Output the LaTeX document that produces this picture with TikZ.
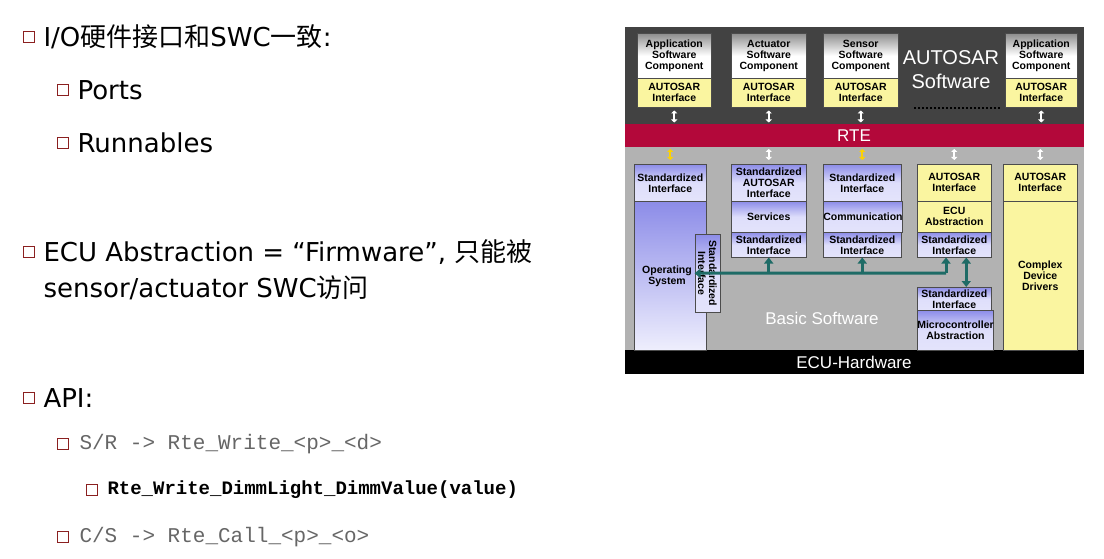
\documentclass[tikz,border=0pt]{standalone}
\usepackage{fontspec}
\setmainfont{DejaVu Sans}
\newfontfamily\cjk{Noto Sans CJK SC}
\newfontfamily\arl{Liberation Sans}
\newfontfamily\mono{Liberation Mono}
\usetikzlibrary{arrows.meta}
\definecolor{bul}{HTML}{8B2020}
\definecolor{rte}{HTML}{B3083A}
\definecolor{top}{HTML}{424242}
\definecolor{low}{HTML}{B2B2B2}
\definecolor{lav}{HTML}{C8C8F8}
\definecolor{lavd}{HTML}{8C8CE8}
\definecolor{yel}{HTML}{FAF5A0}
\definecolor{bus}{HTML}{1E6B66}
\begin{document}
\begin{tikzpicture}[x=1pt,y=-1pt,
  bullet/.style={draw=bul,line width=1.2pt,minimum size=11pt,inner sep=0,
    path picture={\draw[bul,line width=1.5pt] ([xshift=1.5pt]path picture bounding box.south west)--(path picture bounding box.south east)--([yshift=-1.5pt]path picture bounding box.north east);}},
  t1/.style={anchor=west,font=\fontsize{26}{30}\selectfont},
  t2/.style={anchor=west,font=\mono\fontsize{21}{24}\selectfont,text=black!60},
  box/.style={draw=black!70,line width=0.5pt,inner sep=0,align=center,font=\arl\bfseries\fontsize{10.5}{11}\selectfont},
  lv/.style={box,top color=lavd,bottom color=lav!50,middle color=lav!60},
  yl/.style={box,fill=yel},
  sw/.style={box,top color=black!45,bottom color=white,middle color=white},
  arr/.style={{Triangle[length=3pt,width=6pt]}-{Triangle[length=3pt,width=6pt]},line width=2.5pt,draw=#1},
  busl/.style={line width=3pt,draw=bus}
]
\useasboundingbox (0,0) rectangle (1104,559);
% left text
\node[bullet] (b1) at (29,37) {};
\node[t1] (l1) at (40,37) {I/O{\cjk 硬件接口和}SWC{\cjk 一致}:};
\node[bullet] (b2) at (63,90) {};
\node[t1] (l2) at (74,90) {Ports};
\node[bullet] (b3) at (63,143) {};
\node[t1] (l3) at (74,143) {Runnables};
\node[bullet] (b4) at (29,252) {};
\node[t1] (l4) at (40,252) {ECU Abstraction = “Firmware”, {\cjk 只能被}};
\node[t1] (l5) at (40,288) {sensor/actuator SWC{\cjk 访问}};
\node[bullet] (b5) at (29,398) {};
\node[t1] (l6) at (40,398) {API:};
\node[bullet] (b6) at (63,444) {};
\node[t2] (l7) at (76,444) {S/R -> Rte\_Write\_<p>\_<d>};
\node[bullet] (b7) at (92,490) {};
\node[t2,text=black,font=\mono\bfseries\fontsize{19}{22}\selectfont] (l8) at (104,490) {Rte\_Write\_DimmLight\_DimmValue(value)};
\node[bullet] (b8) at (63,537) {};
\node[t2] (l9) at (76,537) {C/S -> Rte\_Call\_<p>\_<o>};
% background layers
\fill[top] (625,27) rectangle (1084,124);
\fill[rte] (625,124) rectangle (1084,147);
\fill[low] (625,147) rectangle (1084,350);
\fill[black] (625,350) rectangle (1084,374);
\node[text=white,font=\arl\fontsize{17}{18}\selectfont] (rte) at (854,136) {RTE};
\node[text=white,font=\arl\fontsize{17}{18}\selectfont] (hw) at (854,362) {ECU-Hardware};
\node[text=white,font=\arl\fontsize{20}{24}\selectfont,align=center] (asw) at (951,70) {AUTOSAR\\Software};
\node[text=white,font=\arl\fontsize{17}{18}\selectfont] (bsw) at (822,318) {Basic Software};
\draw[black,line width=2.5pt,dash pattern=on 2pt off 2pt] (914,108) -- (1000,108);
% top SWCs
\foreach \n/\a/\b/\t in {s1/637/711/Application, s2/731/806/Actuator, s3/823/898/Sensor, s4/1005/1077/Application}{
  \node[sw,minimum width=\b-\a,minimum height=45,anchor=north west] (\n) at (\a,33) {\t\\Software\\Component};
  \node[yl,minimum width=\b-\a,minimum height=29,anchor=north west] (\n i) at (\a,78) {AUTOSAR\\Interface};
}
\foreach \n in {s1,s2,s3,s4}{
  \draw[arr=white,line width=2pt] ([yshift=-3pt]\n i.south) -- ++(0,12);
}
% lower boxes
\node[lv,minimum width=72,minimum height=37,anchor=north west] (osi) at (634,164) {Standardized\\Interface};
\node[box,top color=lavd,bottom color=lav!30,minimum width=72,minimum height=149,anchor=north west] (os) at (634,201) {};
\node[box,draw=none,font=\arl\bfseries\fontsize{10.5}{11}\selectfont] (ost) at (667,276) {Operating\\System};
\node[lv,minimum width=75,minimum height=37,anchor=north west] (bi) at (731,164) {Standardized\\AUTOSAR\\Interface};
\node[lv,minimum width=75,minimum height=31,anchor=north west] (srv) at (731,201) {Services};
\node[lv,minimum width=75,minimum height=25,anchor=north west] (bs) at (731,232) {Standardized\\Interface};
\node[lv,minimum width=78,minimum height=37,anchor=north west] (ci) at (823,164) {Standardized\\Interface};
\node[lv,minimum width=78,minimum height=31,anchor=north west] (com) at (823,201) {Communication};
\node[lv,minimum width=78,minimum height=25,anchor=north west] (cs) at (823,232) {Standardized\\Interface};
\node[yl,minimum width=74,minimum height=37,anchor=north west] (di) at (917,164) {AUTOSAR\\Interface};
\node[yl,minimum width=74,minimum height=31,anchor=north west] (eca) at (917,201) {ECU\\Abstraction};
\node[lv,minimum width=74,minimum height=25,anchor=north west] (ds) at (917,232) {Standardized\\Interface};
\node[yl,minimum width=74,minimum height=37,anchor=north west] (ei) at (1003,164) {AUTOSAR\\Interface};
\node[yl,minimum width=74,minimum height=149,anchor=north west] (cdd) at (1003,201) {Complex\\Device\\Drivers};
\node[lv,minimum width=74,minimum height=23,anchor=north west] (ms) at (917,287) {Standardized\\Interface};
\node[lv,minimum width=74,minimum height=40,anchor=north west] (mca) at (917,310) {Microcontroller\\Abstraction};
\node[lv,minimum width=78,minimum height=25,anchor=north west,rotate=-90] (vs) at (720,234) {Standardized\\Interface};
% RTE to BSW arrows
\draw[arr=yellow!70!orange,line width=2pt] ([yshift=4pt]osi.north) -- ++(0,-11);
\draw[arr=white,line width=2pt] ([yshift=4pt]bi.north) -- ++(0,-11);
\draw[arr=yellow!70!orange,line width=2pt] ([yshift=4pt]ci.north) -- ++(0,-11);
\draw[arr=white,line width=2pt] ([yshift=4pt]di.north) -- ++(0,-11);
\draw[arr=white,line width=2pt] ([yshift=4pt]ei.north) -- ++(0,-11);
% bus
\coordinate (bl) at (946,273);
\draw[busl,-{Triangle[length=6pt,width=9pt]}] (bl) -- (vs.south);
\draw[busl,-{Triangle[length=6pt,width=9pt]}] (bs.south |- bl) -- (bs.south);
\draw[busl,-{Triangle[length=6pt,width=9pt]}] (cs.south |- bl) -- (cs.south);
\draw[busl,-{Triangle[length=6pt,width=9pt]}] (bl) -- (ds.south -| bl);
\draw[busl,{Triangle[length=6pt,width=9pt]}-{Triangle[length=6pt,width=9pt]}] ([xshift=12pt]ds.south) -- ([xshift=12pt]ms.north);
\end{tikzpicture}
\end{document}
